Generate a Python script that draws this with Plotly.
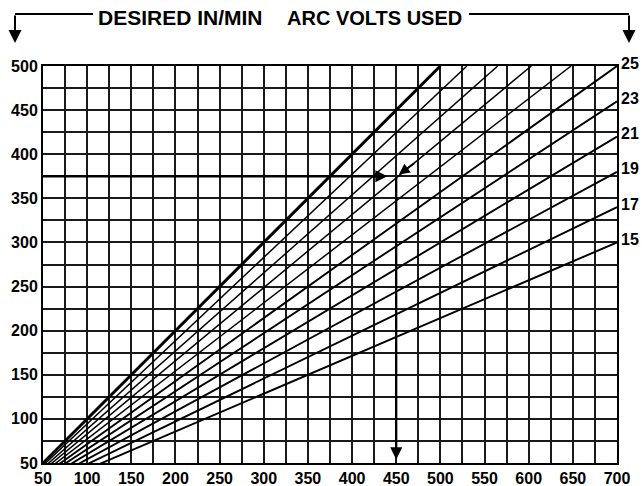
import plotly.graph_objects as go

# ---- data ----
x_ticks = [50, 100, 150, 200, 250, 300, 350, 400, 450, 500, 550, 600, 650, 700]
y_ticks = [50, 100, 150, 200, 250, 300, 350, 400, 450, 500]
volt_labels = ["15", "17", "19", "21", "23", "25"]
volt_label_y = [300, 340, 380, 420, 460, 500]
# end points of the fan lines (all lines start at origin, clipped by the axes)
line_end_x = [700, 700, 700, 700, 700, 700, 648, 603, 565, 530, 500]
line_end_y = [300, 340, 380, 420, 460, 500, 500, 500, 500, 500, 500]
line_width = [1.9, 1.9, 1.9, 1.9, 1.9, 1.9, 1.5, 1.5, 1.5, 1.5, 3]
example_speed = 375
example_x = 450

W, H = 642, 486
L, R, T, B = 43, 25, 66, 23
pw, ph = W - L - R, H - T - B


def px(xp):
    return (xp - L) / pw


def py(yp):
    return (H - B - yp) / ph


fig = go.Figure()
for xe, ye, lw in zip(line_end_x, line_end_y, line_width):
    fig.add_trace(go.Scatter(x=[0, xe], y=[0, ye], mode="lines",
                             line=dict(color="black", width=lw),
                             hoverinfo="skip", showlegend=False))

font_b = dict(family="Liberation Sans, Arial, sans-serif", size=16, color="black")

for lab, yv in zip(volt_labels, volt_label_y):
    fig.add_annotation(x=700, y=yv, xref="x", yref="y", text="<b>%s</b>" % lab,
                       showarrow=False, xanchor="left", yanchor="middle",
                       xshift=2, yshift=3, font=font_b)

# example arrows
fig.add_shape(type="line", x0=50, y0=example_speed, x1=430, y1=example_speed,
              xref="x", yref="y", line=dict(color="black", width=2.6))
fig.add_annotation(x=440, y=example_speed, ax=420, ay=example_speed,
                   xref="x", yref="y", axref="x", ayref="y", text="",
                   showarrow=True, arrowhead=2, arrowsize=1.2, arrowwidth=2,
                   arrowcolor="black")
fig.add_annotation(x=example_x, y=54, ax=example_x, ay=example_speed,
                   xref="x", yref="y", axref="x", ayref="y", text="",
                   showarrow=True, arrowhead=2, arrowsize=1.1, arrowwidth=2.2,
                   arrowcolor="black")
fig.add_annotation(x=453, y=377, ax=472, ay=391,
                   xref="x", yref="y", axref="x", ayref="y", text="",
                   showarrow=True, arrowhead=2, arrowsize=1.2, arrowwidth=1.8,
                   arrowcolor="black")

# header
hdr_font = dict(family="Liberation Sans, Arial, sans-serif", size=21, color="black")
fig.add_annotation(x=px(180), y=py(18), xref="paper", yref="paper",
                   xanchor="center", yanchor="middle",
                   text="<b>DESIRED IN/MIN</b>", showarrow=False, font=hdr_font)
fig.add_annotation(x=px(374), y=py(18), xref="paper", yref="paper",
                   xanchor="center", yanchor="middle",
                   text="<b>ARC VOLTS USED</b>", showarrow=False,
                   font=dict(hdr_font, size=20))
fig.add_shape(type="line", xref="paper", yref="paper", x0=px(15), y0=py(14),
              x1=px(93), y1=py(14), line=dict(color="black", width=2))
fig.add_shape(type="line", xref="paper", yref="paper", x0=px(469), y0=py(14),
              x1=px(629), y1=py(14), line=dict(color="black", width=2))
for xp in (15, 629):
    fig.add_annotation(x=px(xp), y=py(43), xref="paper", yref="paper", text="",
                       xanchor="center", yanchor="middle",
                       showarrow=True, ax=0, ay=-29, arrowhead=2, arrowsize=1.3,
                       arrowwidth=2, arrowcolor="black")

grid_col = "#1a1a1a"
axis_common = dict(showline=True, linecolor="black", linewidth=2, mirror=True,
                   showgrid=True, gridcolor=grid_col, gridwidth=2,
                   ticks="", zeroline=False, tickfont=font_b,
                   minor=dict(showgrid=True, gridcolor=grid_col, gridwidth=2))

fig.update_xaxes(range=[50, 700], tickvals=x_ticks,
                 ticktext=["<b>%d</b>" % v for v in x_ticks],
                 minor_dtick=25, minor_tick0=0, automargin=False, **axis_common)
fig.update_yaxes(range=[50, 500], tickvals=y_ticks,
                 ticktext=["<b>%d</b>" % v for v in y_ticks],
                 minor_dtick=25, minor_tick0=0, automargin=False, **axis_common)

fig.update_layout(width=W, height=H,
                  margin=dict(l=L, r=R, t=T, b=B, autoexpand=False),
                  plot_bgcolor="white", paper_bgcolor="white",
                  showlegend=False)

fig.write_html("out.html", config={"displayModeBar": False, "staticPlot": True},
               post_script="document.body.style.margin='0';"
                           "document.body.style.padding='0';")
